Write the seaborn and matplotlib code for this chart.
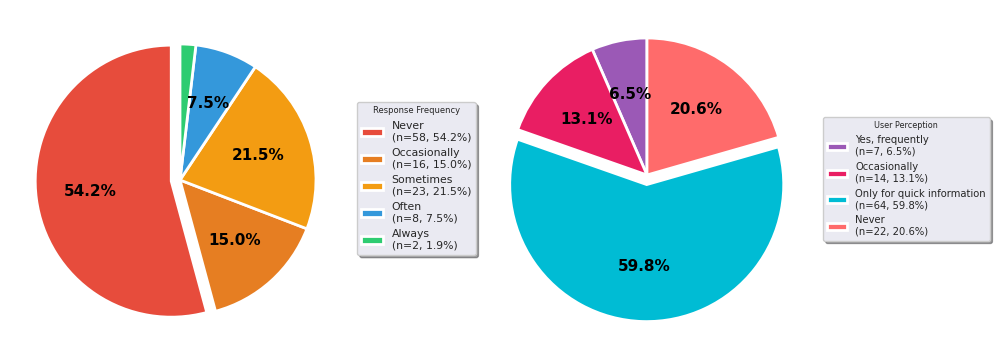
import matplotlib
matplotlib.use("Agg")
import matplotlib.pyplot as plt
import seaborn as sns
import pandas as pd

freq_labels = ["Never", "Occasionally", "Sometimes", "Often", "Always"]
freq_counts = [58, 16, 23, 8, 2]
freq_colors = ["#E74C3C", "#E67E22", "#F39C12", "#3498DB", "#2ECC71"]
freq_explode = [0.065, 0, 0, 0, 0]

perc_labels = ["Yes, frequently", "Occasionally", "Only for quick information", "Never"]
perc_counts = [7, 14, 64, 22]
perc_colors = ["#9B59B6", "#E91E63", "#00BCD4", "#FF6B6B"]
perc_explode = [0, 0, 0.07, 0]

sns.set_style("darkgrid")
plt.rcParams['font.family'] = ['DejaVu Sans']

fig = plt.figure(figsize=(9.96, 3.57), dpi=100)
W, H = 996, 357

def make_ax(cx, cy, r):
    s = r * 2.5
    return fig.add_axes([(cx - s / 2) / W, (H - cy - s / 2) / H, s / W, s / H])

def pct_fmt(p):
    return f"{p:.1f}%" if p >= 5 else ""

def draw(ax, labels, counts, colors, explode, title, anchor, fs, tfs):
    df = pd.DataFrame({"label": labels, "n": counts})
    total = df["n"].sum()
    df["pct"] = df["n"] / total * 100
    wedges, texts, autotexts = ax.pie(
        df["n"], colors=colors, explode=explode, startangle=90,
        autopct=pct_fmt, pctdistance=0.6,
        wedgeprops=dict(edgecolor="white", linewidth=2),
        textprops=dict(fontsize=11, fontweight="bold", color="black"))
    ax.set_aspect("equal")
    leg_labels = [f"{l}\n(n={n}, {p:.1f}%)" for l, n, p in zip(df["label"], df["n"], df["pct"])]
    fig.legend(wedges, leg_labels, title=title, loc="center left",
               bbox_to_anchor=anchor, fontsize=fs, title_fontsize=tfs,
               frameon=True, shadow=True, facecolor="#EAEAF2",
               edgecolor="#CCCCCC", handlelength=2.0, labelspacing=0.5,
               borderaxespad=0)

ax1 = make_ax(180, 180, 136)
draw(ax1, freq_labels, freq_counts, freq_colors, freq_explode,
     "Response Frequency", (357 / W, (H - 178.5) / H), 7.8, 6)

ax2 = make_ax(647, 175, 137)
draw(ax2, perc_labels, perc_counts, perc_colors, perc_explode,
     "User Perception", (823 / W, (H - 179) / H), 7.2, 5.8)

fig.savefig("out.png", dpi=100)
